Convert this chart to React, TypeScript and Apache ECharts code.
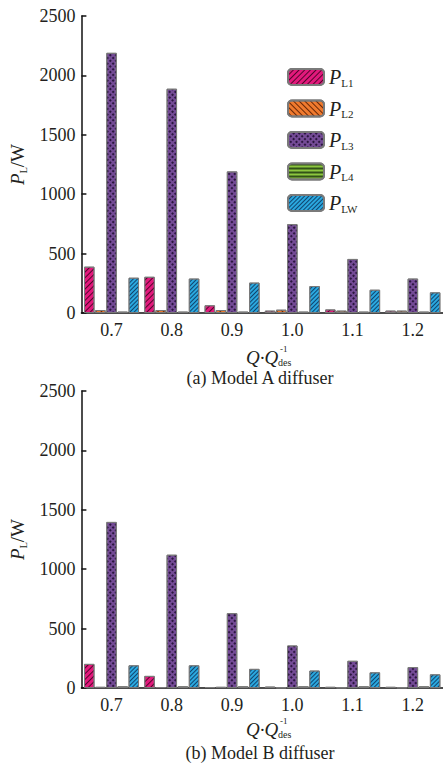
import React, { useEffect, useRef } from "react";
import * as echarts from "echarts";

const categories = ["0.7", "0.8", "0.9", "1.0", "1.1", "1.2"];
const seriesNames = ["L1", "L2", "L3", "L4", "LW"];
const yTicks = [0, 500, 1000, 1500, 2000, 2500];

// Model A diffuser
const a_L1 = [390, 305, 65, 20, 30, 20];
const a_L2 = [25, 25, 25, 28, 20, 20];
const a_L3 = [2190, 1888, 1192, 748, 455, 290];
const a_L4 = [12, 12, 12, 12, 12, 12];
const a_LW = [297, 290, 256, 227, 196, 174];

// Model B diffuser
const b_L1 = [203, 102, 8, 12, 10, 10];
const b_L2 = [10, 8, 10, 5, 5, 5];
const b_L3 = [1398, 1122, 630, 358, 229, 176];
const b_L4 = [15, 15, 15, 15, 15, 15];
const b_LW = [191, 191, 161, 147, 132, 115];

const FONT = "'Liberation Serif', 'Times New Roman', serif";
const TXT = "#231f20";

const colors = ["#e3197c", "#f07a2e", "#744b96", "#8dc63f", "#2aa8df"];
const decals: any[] = [
  { color: "rgba(60,0,30,0.85)", dashArrayX: [1, 0], dashArrayY: [1, 2.5], rotation: -Math.PI / 4 },
  { color: "rgba(80,25,0,0.85)", dashArrayX: [1, 0], dashArrayY: [1, 2.5], rotation: Math.PI / 4 },
  { color: "rgba(30,12,48,0.85)", symbol: "rect", dashArrayX: [1.5, 1.3], dashArrayY: [1.5, 1.3], rotation: Math.PI / 4 },
  { color: "rgba(40,70,20,0.9)", dashArrayX: [1, 0], dashArrayY: [1.3, 2], rotation: 0 },
  { color: "rgba(10,50,90,0.85)", dashArrayX: [1, 0], dashArrayY: [1, 2], rotation: -Math.PI / 4 },
];

export default function App() {
  const ref = useRef<HTMLDivElement>(null);
  useEffect(() => {
    if (!ref.current) return;
    const chart = echarts.init(ref.current, null, { renderer: "svg" });
    const dataA = [a_L1, a_L2, a_L3, a_L4, a_LW];
    const dataB = [b_L1, b_L2, b_L3, b_L4, b_LW];
    const mkSeries = (data: number[][], idx: number) =>
      data.map((d, i) => ({
        type: "bar",
        name: seriesNames[i],
        xAxisIndex: idx,
        yAxisIndex: idx,
        data: d,
        barWidth: 10.5,
        barGap: "6%",
        itemStyle: { color: colors[i], borderColor: "#7a7a7a", borderWidth: 1, decal: decals[i] },
      }));
    const xAxisBase = (gridIndex: number) => ({
      type: "category",
      gridIndex,
      data: categories,
      boundaryGap: true,
      axisLine: { show: true, lineStyle: { color: "#111", width: 1.5 } },
      axisTick: { show: false },
      axisLabel: { fontFamily: FONT, fontSize: 18, color: TXT, margin: 8, lineHeight: 18 },
    });
    const yAxisBase = (gridIndex: number) => ({
      type: "value",
      gridIndex,
      min: yTicks[0],
      max: yTicks[yTicks.length - 1],
      interval: yTicks[1] - yTicks[0],
      name: "{p|P}{s|L}{w|/W}",
      nameLocation: "middle",
      nameRotate: 90,
      nameGap: 39,
      nameTextStyle: {
        fontFamily: FONT,
        color: TXT,
        rich: {
          p: { fontFamily: FONT, fontSize: 19, fontStyle: "italic", color: TXT, lineHeight: 22 },
          s: { fontFamily: FONT, fontSize: 10, color: TXT, lineHeight: 22, verticalAlign: "bottom" },
          w: { fontFamily: FONT, fontSize: 19, color: TXT, lineHeight: 22 },
        },
      },
      axisLine: { show: true, lineStyle: { color: "#111", width: 1.5 } },
      axisTick: { show: true, inside: true, length: 5, lineStyle: { color: "#111", width: 1.5 } },
      axisLabel: { fontFamily: FONT, fontSize: 18, color: TXT, margin: 6, formatter: (v: number) => String(v) },
      splitLine: { show: false },
    });
    const xName = (yc: number) => ({
      type: "group",
      children: [
        { type: "text", x: 246, y: yc, style: { text: "Q·Q", font: `italic 19px ${FONT}`, fill: TXT, verticalAlign: "middle" } },
        { type: "text", x: 280, y: yc - 8, style: { text: "-1", font: `9px ${FONT}`, fill: TXT, verticalAlign: "middle" } },
        { type: "text", x: 278, y: yc + 5, style: { text: "des", font: `10px ${FONT}`, fill: TXT, verticalAlign: "middle" } },
      ],
    });
    const caption = (text: string, yc: number) => ({
      type: "text",
      x: 260,
      y: yc,
      style: { text, font: `18px ${FONT}`, fill: TXT, align: "center", verticalAlign: "middle" },
    });
    chart.setOption({
      animation: false,
      backgroundColor: "#ffffff",
      grid: [
        { left: 80, top: 16, width: 368, height: 297 },
        { left: 80, top: 391, width: 368, height: 297 },
      ],
      xAxis: [xAxisBase(0), xAxisBase(1)],
      yAxis: [yAxisBase(0), yAxisBase(1)],
      legend: {
        orient: "vertical",
        left: 282,
        top: 62,
        itemWidth: 36,
        itemHeight: 16,
        itemGap: 10.5,
        data: seriesNames,
        formatter: (n: string) => `{p|P}{s|${n}}`,
        textStyle: {
          fontFamily: FONT,
          color: TXT,
          rich: {
            p: { fontFamily: FONT, fontSize: 20, fontStyle: "italic", color: TXT, lineHeight: 22 },
            s: { fontFamily: FONT, fontSize: 11, color: TXT, lineHeight: 22, verticalAlign: "bottom" },
          },
        },
      },
      series: [...mkSeries(dataA, 0), ...mkSeries(dataB, 1)],
      graphic: [
        xName(357),
        caption("(a) Model A diffuser", 378),
        xName(729),
        caption("(b) Model B diffuser", 753),
      ],
    } as any);
    return () => chart.dispose();
  }, []);
  return (
    <div
      ref={ref}
      style={{ position: "absolute", left: 0, top: 0, width: 443, height: 766, background: "#fff" }}
    />
  );
}
